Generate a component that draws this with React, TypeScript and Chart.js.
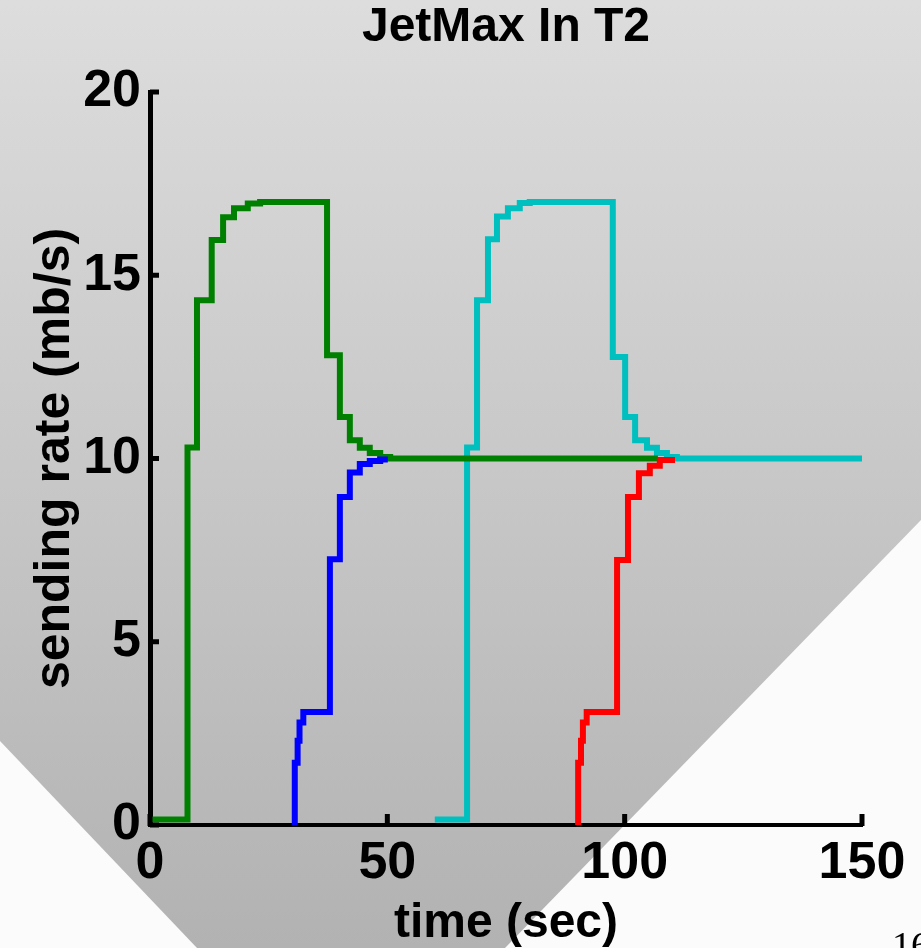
import { useEffect, useRef } from 'react';
import { Chart, registerables } from 'chart.js';

Chart.register(...registerables);

// Axis ticks
const xTickValues = [0, 50, 100, 150];
const yTickValues = [0, 5, 10, 15, 20];

// Flow 1 (green): starts at t=0, ramps up, backs off to the fair share
const greenTime = [0, 7.9, 9.9, 13.0, 15.4, 17.7, 20.6, 23.2, 37.3, 40.0, 42.1, 44.2, 46.3, 48.5, 50.6, 107.0];
const greenRate = [0.15, 10.3, 14.32, 15.96, 16.58, 16.83, 16.96, 17.0, 12.82, 11.13, 10.5, 10.29, 10.15, 10.04, 10.0, 10.0];

// Flow 2 (blue): joins at t=30
const blueTime = [30.5, 30.5, 31.1, 31.5, 32.3, 37.9, 40.0, 42.1, 44.2, 46.3, 48.5, 50.1];
const blueRate = [0, 1.7, 2.3, 2.8, 3.08, 7.25, 8.95, 9.62, 9.85, 9.93, 9.97, 9.97];

// Flow 3 (cyan): starts at t=60
const cyanTime = [60, 66.8, 68.9, 71.2, 73.1, 75.4, 77.9, 80.0, 97.5, 100.1, 102.2, 104.7, 106.8, 108.9, 111.0, 150];
const cyanRate = [0.15, 10.3, 14.32, 15.98, 16.6, 16.83, 16.97, 17.0, 12.77, 11.13, 10.5, 10.29, 10.15, 10.04, 10.0, 10.0];

// Flow 4 (red): joins at t=90
const redTime = [90.2, 90.2, 90.8, 91.2, 92.0, 98.4, 100.7, 103.0, 105.3, 107.4, 110.6];
const redRate = [0, 1.7, 2.3, 2.8, 3.08, 7.23, 8.95, 9.6, 9.8, 9.96, 9.96];

const toPoints = (t: number[], v: number[]) => t.map((x, i) => ({ x, y: v[i] }));

const W = 921;
const H = 948;

const backdrop = {
  id: 'backdrop',
  beforeDraw(chart: any) {
    const ctx = chart.ctx as CanvasRenderingContext2D;
    ctx.save();
    const g = ctx.createLinearGradient(0, 0, 0, H);
    g.addColorStop(0, '#dddddd');
    g.addColorStop(1, '#b2b2b2');
    ctx.fillStyle = g;
    ctx.fillRect(0, 0, W, H);
    ctx.fillStyle = '#fbfbfb';
    ctx.beginPath();
    ctx.moveTo(0, 741);
    ctx.lineTo(197, H);
    ctx.lineTo(0, H);
    ctx.closePath();
    ctx.fill();
    ctx.beginPath();
    ctx.moveTo(W, 520);
    ctx.lineTo(W, H);
    ctx.lineTo(505, H);
    ctx.closePath();
    ctx.fill();
    // slide number
    ctx.fillStyle = '#000';
    ctx.font = '38px "Liberation Serif"';
    ctx.textBaseline = 'alphabetic';
    ctx.textAlign = 'left';
    ctx.fillText('16', 892, 958);
    ctx.restore();
  },
};

// Short tick marks pointing into the plot area
const innerTicks = {
  id: 'innerTicks',
  afterDatasetsDraw(chart: any) {
    const ctx = chart.ctx as CanvasRenderingContext2D;
    const { left, bottom } = chart.chartArea;
    const xs = chart.scales.x;
    const ys = chart.scales.y;
    ctx.save();
    ctx.strokeStyle = '#000';
    ctx.lineCap = 'butt';
    ctx.lineWidth = 5;
    for (const v of xTickValues) {
      const px = xs.getPixelForValue(v);
      ctx.beginPath();
      ctx.moveTo(px, bottom + 1);
      ctx.lineTo(px, bottom - 11);
      ctx.stroke();
    }
    for (const v of yTickValues) {
      const py = ys.getPixelForValue(v);
      ctx.beginPath();
      ctx.moveTo(left, py);
      ctx.lineTo(left + 9, py);
      ctx.stroke();
    }
    ctx.restore();
  },
};

const lineDataset = (label: string, t: number[], v: number[], color: string) => ({
  label,
  data: toPoints(t, v),
  borderColor: color,
  backgroundColor: color,
  borderWidth: 6,
  pointRadius: 0,
  stepped: 'before' as const,
  fill: false,
  clip: false as any,
  borderJoinStyle: 'miter' as const,
  borderCapStyle: 'butt' as const,
});

export default function App() {
  const canvasRef = useRef<HTMLCanvasElement>(null);

  useEffect(() => {
    document.body.style.margin = '0';
    const canvas = canvasRef.current;
    if (!canvas) return;
    const font = '"Liberation Sans", Arial, sans-serif';
    const chart = new Chart(canvas, {
      type: 'line',
      data: {
        datasets: [
          lineDataset('flow 4', redTime, redRate, '#ff0000'),
          lineDataset('flow 2', blueTime, blueRate, '#0000ff'),
          lineDataset('flow 1', greenTime, greenRate, '#008000'),
          lineDataset('flow 3', cyanTime, cyanRate, '#00bfbf'),
        ],
      },
      options: {
        animation: false,
        responsive: false,
        devicePixelRatio: 1,
        layout: { padding: { left: 0, right: 59, top: 0, bottom: 0 } },
        plugins: {
          legend: { display: false },
          tooltip: { enabled: false },
          title: {
            display: true,
            text: 'JetMax In T2',
            color: '#000',
            fullSize: false,
            font: { family: font, size: 48, weight: 'bold', lineHeight: 1 },
            padding: { top: 4, bottom: 40 },
          },
        },
        scales: {
          x: {
            type: 'linear',
            min: 0,
            max: 150,
            afterFit: (s: any) => {
              s.height = H - 825;
            },
            afterBuildTicks: (s: any) => {
              s.ticks = xTickValues.map((value) => ({ value }));
            },
            grid: { display: false, drawTicks: false },
            border: { display: true, color: '#000', width: 4 },
            ticks: {
              color: '#000',
              padding: 13,
              maxRotation: 0,
              autoSkip: false,
              font: { family: font, size: 52, weight: 'bold', lineHeight: 1 },
            },
            title: {
              display: true,
              text: 'time (sec)',
              color: '#000',
              font: { family: font, size: 48, weight: 'bold', lineHeight: 1 },
              padding: { top: 0, bottom: 0 },
            },
          },
          y: {
            type: 'linear',
            min: 0,
            max: 20,
            afterFit: (s: any) => {
              s.width = 150;
            },
            afterBuildTicks: (s: any) => {
              s.ticks = yTickValues.map((value) => ({ value }));
            },
            grid: { display: false, drawTicks: false },
            border: { display: true, color: '#000', width: 5 },
            ticks: {
              color: '#000',
              padding: 9,
              autoSkip: false,
              font: { family: font, size: 52, weight: 'bold', lineHeight: 1 },
            },
            title: {
              display: true,
              text: 'sending rate (mb/s)',
              color: '#000',
              font: { family: font, size: 50, weight: 'bold', lineHeight: 1 },
              padding: { top: 30, bottom: 0 },
            },
          },
        },
      },
      plugins: [backdrop, innerTicks],
    });
    return () => chart.destroy();
  }, []);

  return (
    <div style={{ width: W, height: H, position: 'relative' }}>
      <canvas ref={canvasRef} width={W} height={H} style={{ display: 'block' }} />
    </div>
  );
}
